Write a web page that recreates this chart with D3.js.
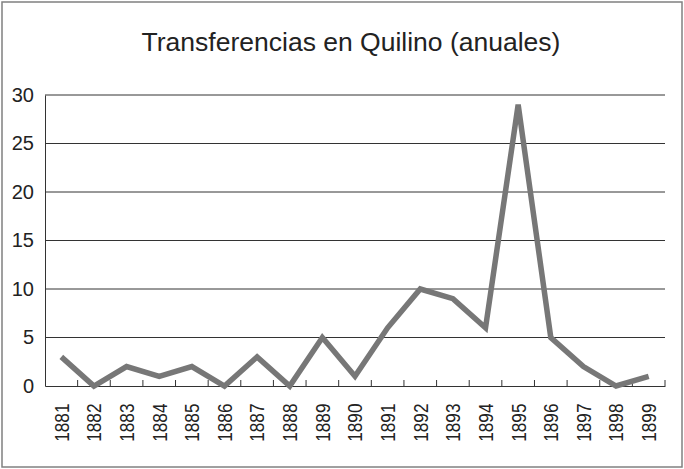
<!DOCTYPE html>
<html><head><meta charset="utf-8">
<script src="https://cdn.jsdelivr.net/npm/d3@7"></script>
<style>body{margin:0;background:#fff}svg{display:block}svg text{font-family:"Liberation Sans",Arial,sans-serif}</style>
</head><body>
<svg id="c" width="684" height="469"></svg>
<script>
const title = "Transferencias en Quilino (anuales)";
const years = ["1881","1882","1883","1884","1885","1886","1887","1888","1889","1890","1891","1892","1893","1894","1895","1896","1897","1898","1899"];
const values = [3,0,2,1,2,0,3,0,5,1,6,10,9,6,29,5,2,0,1];
const yTicks = [0,5,10,15,20,25,30];

const svg = d3.select("#c");
const W = 684, H = 469;
const m = {left:45, right:19, top:95, bottom:83};
svg.append("rect").attr("x",2).attr("y",2).attr("width",W-4).attr("height",H-4)
  .attr("fill","#fff").attr("stroke","#808080").attr("stroke-width",1.5);

const x = d3.scaleBand().domain(years).range([m.left, W-m.right]);
const y = d3.scaleLinear().domain([0,30]).range([H-m.bottom, m.top]);

svg.append("text").attr("x",351).attr("y",51).attr("text-anchor","middle")
  .attr("font-size",26.5).attr("fill","#222").text(title);

// gridlines
svg.append("g").selectAll("line").data(yTicks.filter(d=>d>0)).join("line")
  .attr("x1",m.left).attr("x2",W-m.right).attr("y1",d=>y(d)).attr("y2",d=>y(d))
  .attr("stroke","#333").attr("stroke-width",1);

// y axis
const ya = svg.append("g").attr("transform",`translate(${m.left},0)`)
  .call(d3.axisLeft(y).tickValues(yTicks).tickSize(0).tickPadding(11));
ya.attr("font-family",null);
ya.select(".domain").attr("stroke","#333");
ya.selectAll("text").attr("font-size",20).attr("fill","#222");

// x axis
const sx = 0.84;
const xa = svg.append("g").attr("transform",`translate(0,${y(0)})`)
  .call(d3.axisBottom(x).tickSize(0).tickPadding(0));
xa.attr("font-family",null);
xa.select(".domain").attr("stroke","#333");
xa.selectAll("text").attr("font-size",20.5).attr("fill","#222")
  .attr("transform",`rotate(-90) scale(${sx},1)`).attr("text-anchor","end")
  .attr("x",-17.5/sx).attr("y",0).attr("dy","0.36em");
// category boundary ticks pointing up
const bounds = years.map(d=>x(d)).concat([x(years[years.length-1])+x.bandwidth()]);
svg.append("g").selectAll("line").data(bounds.slice(1)).join("line")
  .attr("x1",d=>d).attr("x2",d=>d).attr("y1",y(0)).attr("y2",y(0)-6)
  .attr("stroke","#333").attr("stroke-width",1);

// line
const line = d3.line().x((d,i)=>x(years[i])+x.bandwidth()/2).y(d=>y(d));
svg.append("path").datum(values).attr("d",line).attr("fill","none")
  .attr("stroke","#777").attr("stroke-width",5.5).attr("stroke-linejoin","miter");
</script>
</body></html>
